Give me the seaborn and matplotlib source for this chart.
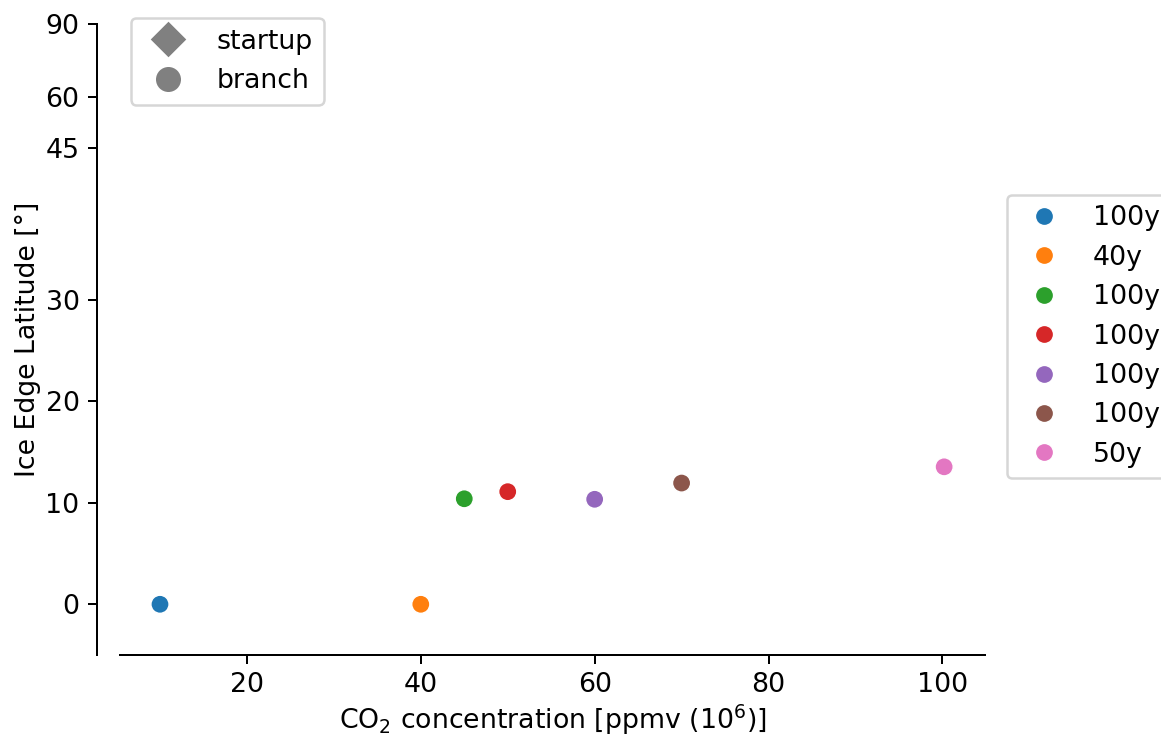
import numpy as np
import pandas as pd
import matplotlib
matplotlib.use("Agg")
import matplotlib.pyplot as plt
from matplotlib.lines import Line2D
import seaborn as sns

# CO2 concentration of each run and the ice edge latitude it settled at
co2 = [10, 40, 45, 50, 60, 70, 100.2]
ice_edge = [0.0, 0.0, 10.4, 11.1, 10.35, 11.95, 13.55]
run_id = ["run1", "run2", "run3", "run4", "run5", "run6", "run7"]
run_length = ["100y", "40y", "100y", "100y", "100y", "100y", "50y"]
run_kind = ["branch"] * 7

kind_labels = ["startup", "branch"]
kind_markers = ["D", "o"]

x_ticks = [20, 40, 60, 80, 100]
y_ticks = [0, 10, 20, 30, 45, 60, 90]

df = pd.DataFrame({"co2": co2, "ice_edge": ice_edge, "run": run_id,
                   "length": run_length, "kind": run_kind})

plt.rcParams["font.size"] = 10.7

DPI = 180
W, H = 1161, 734
fig = plt.figure(figsize=(W / DPI, H / DPI), dpi=DPI)
ax_l, ax_r, ax_t, ax_b = 120, 985, 24, 655
ax = fig.add_axes([ax_l / W, 1 - ax_b / H, (ax_r - ax_l) / W, (ax_b - ax_t) / H])

# latitude axis: linear up to 45 deg, compressed towards the pole
lat_knots = [-90.0, 45.0, 60.0, 90.0, 180.0]
pos_knots = [-90.0, 45.0, 50.0, 57.2, 78.8]


def lat_forward(y):
    return np.interp(y, lat_knots, pos_knots)


def lat_inverse(v):
    return np.interp(v, pos_knots, lat_knots)


ax.set_yscale("function", functions=(lat_forward, lat_inverse))

POINT_S = 53
palette = sns.color_palette("tab10", len(run_id))
sns.scatterplot(data=df, x="co2", y="ice_edge", hue="run", palette=palette,
                marker="o", s=POINT_S, ax=ax, legend=False)

ax.set_xlim(5.4, 104.9)
ax.set_ylim(-5, 90)
ax.set_xticks(x_ticks)
ax.set_yticks(y_ticks)
ax.set_yticklabels([str(t) for t in y_ticks])
ax.minorticks_off()

ax.spines["top"].set_visible(False)
ax.spines["right"].set_visible(False)
ax.spines["left"].set_position(("outward", 23 * 72 / DPI))

ax.set_xlabel(r"CO$_2$ concentration [ppmv (10$^6$)]", labelpad=1.5)
ax.set_ylabel("Ice Edge Latitude [°]", labelpad=1.8)

kind_handles = [Line2D([], [], marker=m, color="gray", linestyle="", markersize=9,
                       label=lab) for m, lab in zip(kind_markers, kind_labels)]
leg_kind = ax.legend(handles=kind_handles, loc="upper left",
                     bbox_to_anchor=(11 / (ax_r - ax_l), (ax_b - 18) / (ax_b - ax_t)),
                     borderaxespad=0)
ax.add_artist(leg_kind)

ms = np.sqrt(POINT_S)
run_handles = [Line2D([], [], marker="o", linestyle="", color=c, markersize=ms,
                      markeredgecolor="white", markeredgewidth=0.08 * ms)
               for c in palette]
ax.legend(run_handles, run_length, loc="center left",
          bbox_to_anchor=((1007 - ax_l) / (ax_r - ax_l), (ax_b - 336.5) / (ax_b - ax_t)),
          borderaxespad=0)

fig.savefig("out.png", dpi=DPI)
